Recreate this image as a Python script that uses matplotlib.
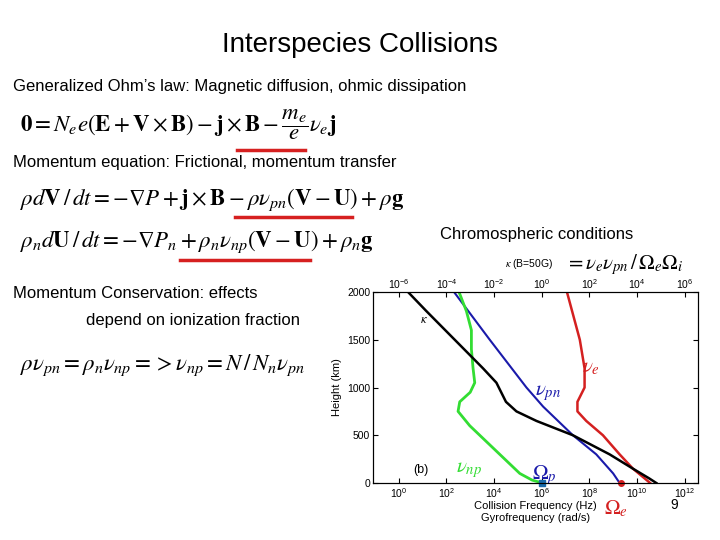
import matplotlib
matplotlib.use("Agg")
import matplotlib.pyplot as plt
import numpy as np

plt.rcParams['mathtext.fontset'] = 'stix'
plt.rcParams['font.family'] = ['Liberation Sans', 'DejaVu Sans']

# data: log10 of frequency (bottom axis units) vs height (km)
h_e = [2000, 1500, 1200, 1000, 850, 750, 650, 500, 300, 150, 0]
nu_e = [7.06, 7.6, 7.8, 7.8, 7.5, 7.5, 7.87, 8.57, 9.27, 9.83, 10.55]
h_pn = [2000, 1500, 1000, 800, 500, 300, 100, 0]
nu_pn = [2.32, 3.82, 5.36, 6.06, 7.31, 8.29, 9.0, 9.27]
h_np = [2000, 1800, 1600, 1400, 1200, 1050, 950, 850, 750, 600, 400, 200, 100, 30, 0]
nu_np = [2.53, 2.84, 3.05, 3.05, 3.12, 3.19, 3.0, 2.56, 2.49, 2.98, 3.82, 4.66, 5.08, 5.6, 6.03]
h_k = [2000, 1800, 1500, 1200, 1050, 950, 850, 750, 650, 500, 300, 150, 50, 0]
kap = [0.39, 1.16, 2.35, 3.54, 4.1, 4.3, 4.5, 4.94, 5.78, 7.31, 8.85, 9.83, 10.5, 10.81]
omega_p = 6.03
omega_e = 9.34

fig = plt.figure(figsize=(7.2, 5.4), dpi=100)
def fy(y): return 1 - y / 540
def fx(x): return x / 720

fig.text(0.5, fy(45), "Interspecies Collisions", ha="center", va="center", fontsize=20)
fs = 12
efs = 16.5
fig.text(fx(13), fy(87), "Generalized Ohm\u2019s law: Magnetic diffusion, ohmic dissipation", va="center", fontsize=fs)
fig.text(fx(20), fy(125), r"$\mathbf{0} = N_e e(\mathbf{E} + \mathbf{V}\times\mathbf{B}) - \mathbf{j}\times\mathbf{B} - \dfrac{m_e}{e}\nu_e\mathbf{j}$", va="center", fontsize=efs)
fig.text(fx(13), fy(163), "Momentum equation: Frictional, momentum transfer", va="center", fontsize=fs)
fig.text(fx(20), fy(200), r"$\rho d\mathbf{V}\,/\,dt = -\nabla P + \mathbf{j}\times\mathbf{B} - \rho\nu_{pn}(\mathbf{V}-\mathbf{U}) + \rho\mathbf{g}$", va="center", fontsize=efs)
fig.text(fx(20), fy(242), r"$\rho_n d\mathbf{U}\,/\,dt = -\nabla P_n + \rho_n\nu_{np}(\mathbf{V}-\mathbf{U}) + \rho_n\mathbf{g}$", va="center", fontsize=efs)
fig.text(fx(440), fy(234), "Chromospheric conditions", va="center", fontsize=fs)
fig.text(fx(13), fy(293), "Momentum Conservation: effects", va="center", fontsize=fs)
fig.text(fx(86), fy(320), "depend on ionization fraction", va="center", fontsize=fs)
fig.text(fx(20), fy(365), r"$\rho\nu_{pn} = \rho_n\nu_{np} => \nu_{np} = N\,/\,N_n\nu_{pn}$", va="center", fontsize=efs)
fig.text(fx(505), fy(264), r"$\kappa$ (B=50G)", va="center", fontsize=7.5)
fig.text(fx(565), fy(265), r"$= \nu_e\nu_{pn}\,/\,\Omega_e\Omega_i$", va="center", fontsize=15)
fig.text(fx(670), fy(505), "9", va="center", fontsize=10)
for (x0, x1, y) in [(237, 305, 150), (235, 352, 217), (180, 310, 260)]:
    fig.add_artist(plt.Line2D([fx(x0), fx(x1)], [fy(y), fy(y)], color="#d62020", lw=2.5))

ax = fig.add_axes([373/720, 1-483/540, 325/720, 191/540])
ax.plot(10**np.array(nu_e), h_e, color="#d42020", lw=1.8)
ax.plot(10**np.array(nu_pn), h_pn, color="#1a1aaa", lw=1.5)
ax.plot(10**np.array(nu_np), h_np, color="#33dd33", lw=2)
ax.plot(10**np.array(kap), h_k, color="black", lw=1.8)
ax.plot([10**omega_p], [0], "s", color="#1a6aaa", ms=5, clip_on=False)
ax.plot([10**omega_e], [0], "o", color="#d42020", ms=4, clip_on=False)
ax.set_xscale("log")
ax.set_xlim(10**-1.08, 10**12.56)
ax.set_ylim(0, 2000)
ax.set_xticks([10.0**k for k in range(0, 13, 2)])
ax.minorticks_off()
ax.set_yticks([0, 500, 1000, 1500, 2000])
ax.tick_params(labelsize=7.5, direction="in", top=False, right=True, pad=2)
ax.set_ylabel("Height (km)", fontsize=8)
ax.set_xlabel("Collision Frequency (Hz)\nGyrofrequency (rad/s)", fontsize=8, labelpad=1)
ax2 = ax.twiny()
ax2.set_xscale("log")
ax2.set_xlim(10**-7.08, 10**6.56)
ax2.set_xticks([10.0**k for k in range(-6, 7, 2)])
ax2.minorticks_off()
ax2.tick_params(labelsize=7.5, direction="in", pad=1)
ax.text(10**0.6, 100, "(b)", fontsize=9)
ax.text(10**0.9, 1680, r"$\kappa$", fontsize=9)
ax.text(10**7.7, 1160, r"$\nu_e$", color="#d42020", fontsize=15)
ax.text(10**5.7, 920, r"$\nu_{pn}$", color="#1a1aaa", fontsize=15)
ax.text(10**2.4, 110, r"$\nu_{np}$", color="#33dd33", fontsize=15)
ax.text(10**5.6, 40, r"$\Omega_p$", color="#1a1aaa", fontsize=15)
ax.text(10**8.6, -330, r"$\Omega_e$", color="#d42020", fontsize=15, clip_on=False)
fig.savefig("out.png", dpi=100)
